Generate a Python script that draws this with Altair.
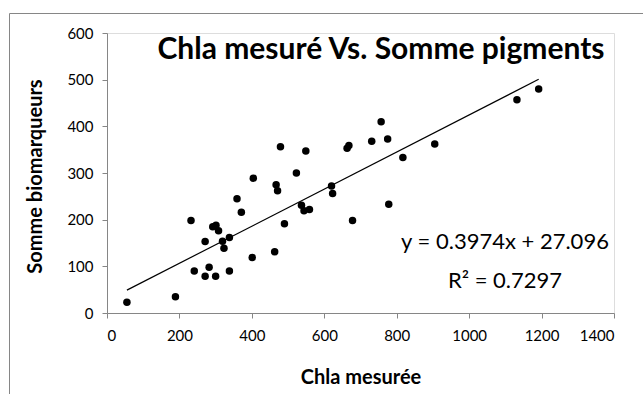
import altair as alt
import pandas as pd

# ---- data ----
chla = [55, 189, 232, 241, 271, 271, 282, 292, 301, 300, 308, 319, 323, 338, 338,
        359, 371, 401, 404, 463, 467, 471, 479, 490, 523, 537, 544, 549, 559, 620,
        623, 663, 668, 678, 731, 757, 775, 778, 817, 905, 1132, 1192]
somme = [23, 35, 198, 90, 153, 79, 98, 185, 188, 79, 176, 154, 139, 162, 90,
         245, 216, 119, 289, 131, 275, 262, 356, 191, 300, 231, 219, 347, 222, 272,
         256, 353, 359, 198, 368, 410, 373, 233, 333, 362, 457, 480]
slope = 0.3974
intercept = 27.096
x_ticks = [0, 200, 400, 600, 800, 1000, 1200, 1400]
y_ticks = [0, 100, 200, 300, 400, 500, 600]
title_text = ["Chla mesuré Vs. Somme pigments"]
eq_text = ["y = 0.3974x + 27.096"]
r2_text = ["R² = 0.7297"]

pts = pd.DataFrame({"chla": chla, "somme": somme})
fx = [min(chla), max(chla)]
fit = pd.DataFrame({"chla": fx, "somme": [slope * v + intercept for v in fx]})

FONT = "Lato"
GRAY = "#868686"

xs = alt.Scale(domain=[0, 1400], nice=False)
ys = alt.Scale(domain=[0, 600], nice=False)

xaxis = alt.Axis(values=x_ticks, format="d", title="Chla mesurée", grid=False, domainColor=GRAY,
                 tickColor=GRAY, tickSize=5, labelFont=FONT, labelFontSize=15,
                 labelColor="#000", labelPadding=10, titleFont=FONT, titleFontSize=20,
                 titleFontWeight="bold", titleColor="#000", titleX=253.5, titleY=70,
                 titleBaseline="alphabetic", titleAnchor="middle")
yaxis = alt.Axis(values=y_ticks, format="d", title="Somme biomarqueurs", grid=False, domainColor=GRAY,
                 tickColor=GRAY, tickSize=5, labelFont=FONT, labelFontSize=15,
                 labelColor="#000", labelPadding=9, titleFont=FONT, titleFontSize=20,
                 titleFontWeight="bold", titleColor="#000", titleX=-66, titleY=143,
                 titleAngle=-90, titleBaseline="alphabetic", titleAnchor="middle")

points = alt.Chart(pts).mark_circle(size=56, color="#000", opacity=1).encode(
    x=alt.X("chla:Q", scale=xs, axis=xaxis),
    y=alt.Y("somme:Q", scale=ys, axis=yaxis),
)

line = alt.Chart(fit).mark_line(color="#000", strokeWidth=1.2).encode(
    x=alt.X("chla:Q", scale=xs),
    y=alt.Y("somme:Q", scale=ys),
)

title = alt.Chart(pd.DataFrame({"t": title_text})).mark_text(
    font=FONT, fontSize=30, fontWeight="bold", color="#000", align="center",
    baseline="alphabetic").encode(text="t:N", x=alt.value(274), y=alt.value(26))

eq = alt.Chart(pd.DataFrame({"t": eq_text})).mark_text(
    font=FONT, fontSize=22, color="#000", align="center", baseline="alphabetic"
).encode(text="t:N", x=alt.value(398), y=alt.value(216))

r2 = alt.Chart(pd.DataFrame({"t": r2_text})).mark_text(
    font=FONT, fontSize=22, color="#000", align="center", baseline="alphabetic"
).encode(text="t:N", x=alt.value(398), y=alt.value(255))

border_top = alt.Chart(pd.DataFrame({"a": [0]})).mark_rule(color=GRAY, strokeWidth=1).encode(
    x=alt.value(-97.5), x2=alt.value(540), y=alt.value(-19.5))
border_left = alt.Chart(pd.DataFrame({"a": [0]})).mark_rule(color=GRAY, strokeWidth=1).encode(
    x=alt.value(-97.5), y=alt.value(-19.5), y2=alt.value(370))

chart = alt.layer(border_top, border_left, line, points, title, eq, r2).properties(
    width=507, height=280,
    autosize=alt.AutoSizeParams(type="none"),
    padding={"left": 107, "top": 33, "right": 29, "bottom": 81},
).configure_view(stroke=None).configure(background="#ffffff")

chart.save("out.html", embed_options={"renderer": "svg", "actions": False})
